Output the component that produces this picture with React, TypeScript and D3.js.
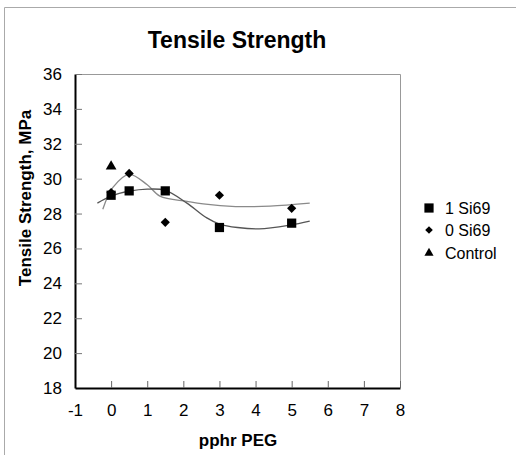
import React, { useEffect, useRef } from "react";
import * as d3 from "d3";

// measured points
const pegLevels = [0, 0.5, 1.5, 3, 5];
const si69One = [29.05, 29.3, 29.3, 27.2, 27.45];
const si69Zero = [29.2, 30.3, 27.5, 29.05, 28.3];
const controlX = [0];
const controlY = [30.7];

// trend lines
const trendOneX = [-0.38, 0, 0.5, 1.0, 1.5, 2.1, 2.65, 3.0, 3.5, 4.1, 4.95, 5.5];
const trendOneY = [28.6, 29.0, 29.28, 29.4, 29.33, 28.6, 27.75, 27.4, 27.2, 27.12, 27.34, 27.57];
const trendZeroX = [-0.23, 0.05, 0.5, 1.0, 1.35, 2.1, 2.55, 3.45, 4.4, 5.5];
const trendZeroY = [28.25, 29.5, 30.25, 29.65, 29.0, 28.7, 28.55, 28.4, 28.43, 28.6];

const xTicks = [-1, 0, 1, 2, 3, 4, 5, 6, 7, 8];
const yTicks = [18, 20, 22, 24, 26, 28, 30, 32, 34, 36];
const legendNames = ["1 Si69", "0 Si69", "Control"];

const FONT = "'Liberation Sans', Arial, sans-serif";

export default function App() {
  const ref = useRef<SVGSVGElement>(null);

  useEffect(() => {
    const svg = d3.select(ref.current);
    svg.selectAll("*").remove();

    const left = 75, right = 400, top = 74, bottom = 388;

    const x = d3.scaleLinear().domain([-1, 8]).range([left, right]);
    const y = d3.scaleLinear().domain([18, 36]).range([bottom, top]);

    svg.append("rect").attr("width", 516).attr("height", 455).attr("fill", "#fff");

    // outer frame (only top and left show)
    svg.append("path")
      .attr("d", `M4.5,455 L4.5,7.5 L516,7.5`)
      .attr("fill", "none")
      .attr("stroke", "#aaa")
      .attr("stroke-width", 1);

    // plot frame top/right
    svg.append("path")
      .attr("d", `M${left},${top + 0.5} L${right + 0.5},${top + 0.5} L${right + 0.5},${bottom}`)
      .attr("fill", "none")
      .attr("stroke", "#999")
      .attr("stroke-width", 1);

    // X axis
    const gx = svg.append("g").attr("transform", `translate(0,${bottom})`)
      .call(d3.axisBottom(x).tickValues(xTicks).tickSizeInner(-7).tickSizeOuter(0).tickPadding(16)
        .tickFormat(d => String(d)));
    gx.select(".domain").attr("stroke", "#000").attr("stroke-width", 2);
    gx.selectAll(".tick line").attr("stroke", "#666");
    gx.selectAll("text").attr("font-family", FONT).attr("font-size", 17).attr("fill", "#000");

    // Y axis
    const gy = svg.append("g").attr("transform", `translate(${left},0)`)
      .call(d3.axisLeft(y).tickValues(yTicks).tickSizeInner(-7).tickSizeOuter(0).tickPadding(13));
    gy.select(".domain").attr("stroke", "#000").attr("stroke-width", 2);
    gy.selectAll(".tick line").attr("stroke", "#777");
    gy.selectAll(".tick").filter((d) => d === 18).select("line").remove();
    gy.selectAll("text").attr("font-family", FONT).attr("font-size", 17).attr("fill", "#000");

    // trend lines
    const line = d3.line<[number, number]>()
      .x(d => x(d[0]))
      .y(d => y(d[1]))
      .curve(d3.curveCatmullRom);

    svg.append("path")
      .datum(trendZeroX.map((v, i) => [v, trendZeroY[i]] as [number, number]))
      .attr("d", line)
      .attr("fill", "none")
      .attr("stroke", "#8a8a8a")
      .attr("stroke-width", 1.3);

    svg.append("path")
      .datum(trendOneX.map((v, i) => [v, trendOneY[i]] as [number, number]))
      .attr("d", line)
      .attr("fill", "none")
      .attr("stroke", "#555")
      .attr("stroke-width", 1.3);

    // markers
    const square = d3.symbol().type(d3.symbolSquare).size(85);
    const diamond = (s: number) => `M0,${-s} L${s},0 L0,${s} L${-s},0 Z`;
    const triangle = d3.symbol().type(d3.symbolTriangle).size(50);

    svg.append("g").selectAll("path")
      .data(pegLevels)
      .join("path")
      .attr("d", diamond(4.6))
      .attr("transform", (d, i) => `translate(${x(d)},${y(si69Zero[i])})`)
      .attr("fill", "#000");

    svg.append("g").selectAll("path")
      .data(pegLevels)
      .join("path")
      .attr("d", square()!)
      .attr("transform", (d, i) => `translate(${x(d)},${y(si69One[i])})`)
      .attr("fill", "#000");

    svg.append("g").selectAll("path")
      .data(controlX)
      .join("path")
      .attr("d", triangle()!)
      .attr("transform", (d, i) => `translate(${x(d)},${y(controlY[i])})`)
      .attr("fill", "#000");

    // titles
    svg.append("text")
      .attr("x", 237).attr("y", 48)
      .attr("text-anchor", "middle")
      .attr("font-family", FONT).attr("font-size", 23).attr("font-weight", "bold")
      .text("Tensile Strength");

    svg.append("text")
      .attr("x", 238).attr("y", 446)
      .attr("text-anchor", "middle")
      .attr("font-family", FONT).attr("font-size", 17).attr("font-weight", "bold")
      .text("pphr PEG");

    svg.append("text")
      .attr("transform", "translate(31,198) rotate(-90)")
      .attr("text-anchor", "middle")
      .attr("font-family", FONT).attr("font-size", 17).attr("font-weight", "bold")
      .text("Tensile Strength, MPa");

    // legend
    const legendYs = [208, 230, 253];
    const legendShapes = [square()!, diamond(3.8), d3.symbol().type(d3.symbolTriangle).size(36)()!];
    const lg = svg.append("g");
    legendNames.forEach((name, i) => {
      lg.append("path")
        .attr("d", legendShapes[i])
        .attr("transform", `translate(429,${legendYs[i]})`)
        .attr("fill", "#000");
      lg.append("text")
        .attr("x", 445).attr("y", legendYs[i] + 6)
        .attr("font-family", FONT).attr("font-size", 16)
        .text(name);
    });
  }, []);

  return (
    <svg ref={ref} width={516} height={455} style={{ position: "absolute", left: 0, top: 0 }} />
  );
}
